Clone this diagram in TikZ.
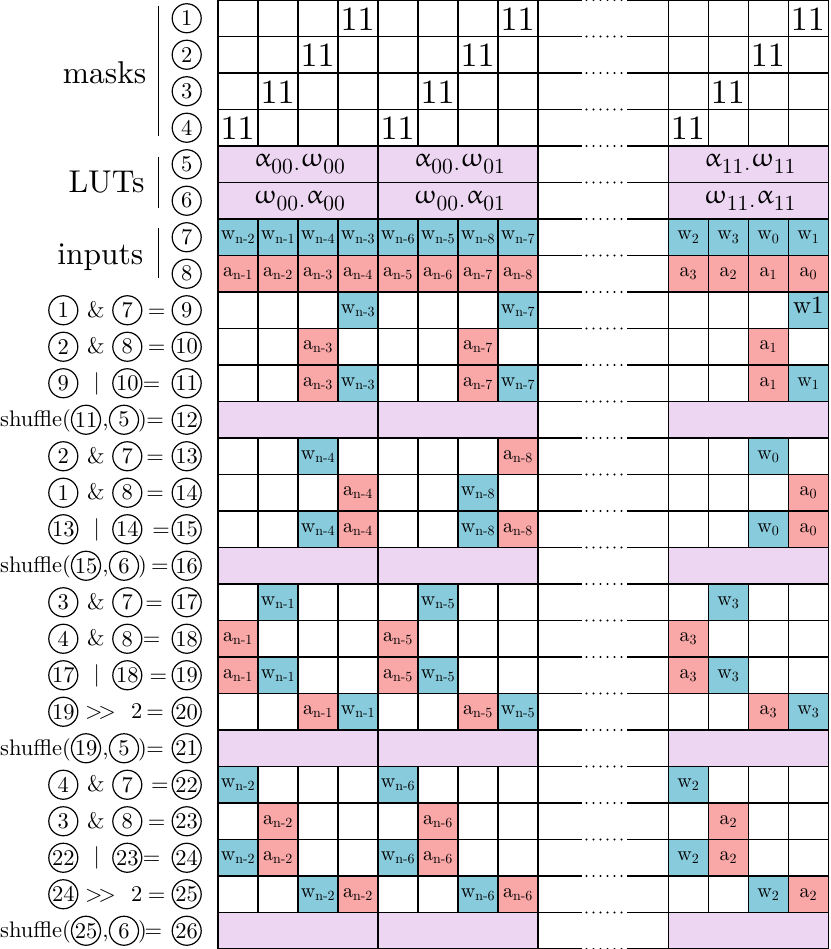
\documentclass[tikz,border=0pt]{standalone}
\usepackage{amsmath}
\usepackage{upgreek}
\usepackage{fontspec}
\setmainfont{lmroman10-regular}[Extension=.otf]
\definecolor{cyanc}{RGB}{136,203,220}
\definecolor{pinkc}{RGB}{250,167,167}
\definecolor{purpc}{RGB}{236,214,242}
\newcommand\myE{\fontsize{22.5}{27}\selectfont}
\newcommand\myL{\fontsize{31.5}{38}\selectfont}
\newcommand\myM{\fontsize{34}{40}\selectfont}
\newcommand\myC{\fontsize{20}{24}\selectfont}
\newcommand\myG{\fontsize{26.5}{30}\selectfont}
\newcommand\mySub{\fontsize{21.5}{22}\selectfont}
\newcommand\lut[4]{{\myG$#1$}\raisebox{-7pt}{\mySub#2}\kern1pt\raisebox{-4pt}{\mySub.}\kern1pt{\myG$#3$}\raisebox{-7pt}{\mySub#4}}
\tikzset{
  cn/.style={circle,draw,line width=1.2pt,minimum size=29pt,inner sep=0pt,font=\myE},
  et/.style={anchor=base,inner sep=0pt,font=\myE},
  lab/.style={anchor=base east,inner sep=0pt,font=\myL},
  ctext/.style={anchor=base,inner sep=0pt,font=\myC},
  mtext/.style={inner sep=0pt,font=\myM},
  gtext/.style={inner sep=0pt},
}
\newcommand\setcx[1]{\pgfmathsetmacro\cx{ifthenelse(#1<5,218+40*(#1-1),ifthenelse(#1<9,378+40*(#1-5),668.4+40*(#1-9)))}}
\newcommand\cellfill[4]{% col,row,color,content
  \setcx{#1}\pgfmathsetmacro\cy{(#2-1)*36.5}
  \fill[#3] (\cx,\cy) rectangle ++(40,36.5);
  \node[ctext] (c#1x#2) at (\cx+20,\cy+21) {#4};}
\newcommand\wcell[3]{\cellfill{#1}{#2}{cyanc}{$\text{w}_{\text{#3}}$}}
\newcommand\acell[3]{\cellfill{#1}{#2}{pinkc}{$\text{a}_{\text{#3}}$}}
\newcommand\mcell[2]{\setcx{#1}\pgfmathsetmacro\cy{(#2-1)*36.5}
  \node[mtext] (m#1x#2) at (\cx+19.5,\cy+19) {11};}
\newcommand\pcell[3]{% group,row,content
  \pgfmathsetmacro\gx{ifthenelse(#1==1,218,ifthenelse(#1==2,378,668.4))}
  \pgfmathsetmacro\cy{(#2-1)*36.5}
  \fill[purpc] (\gx,\cy) rectangle ++(160,36.5);
  \node[gtext] (p#1x#2) at (\gx+81.5,\cy+18.2) {#3};}
\newcommand\exand[5]{\pgfmathsetmacro\yc{(#1-0.5)*36.5}
  \node[cn] (e#1a) at (63.3,\yc) {#2};
  \node[et] (e#1o) at (95.8,\yc+7.2) {\&};
  \node[cn] (e#1b) at (127.3,\yc) {#3};
  \node[et] (e#1e) at (#5,\yc+7.2) {=};
  \node[cn] (e#1r) at (186.7,\yc) {#4};}
\newcommand\exor[5]{\pgfmathsetmacro\yc{(#1-0.5)*36.5}
  \node[cn] (e#1a) at (63.3,\yc) {#2};
  \node[et] (e#1o) at (96.7,\yc+6) {|};
  \node[cn] (e#1b) at (127.3,\yc) {#3};
  \node[et] (e#1e) at (#5,\yc+7.2) {=};
  \node[cn] (e#1r) at (186.7,\yc) {#4};}
\newcommand\exshift[4]{\pgfmathsetmacro\yc{(#1-0.5)*36.5}
  \node[cn] (e#1a) at (63.3,\yc) {#2};
  \node[et] (e#1o) at (100.5,\yc+7.2) {{>}\kern-4.5pt{>}};
  \node[et] (e#1t) at (136.7,\yc+7.2) {2};
  \node[et] (e#1e) at (#4,\yc+7.2) {=};
  \node[cn] (e#1r) at (186.7,\yc) {#3};}
\newcommand\exshuf[5]{\pgfmathsetmacro\yc{(#1-0.5)*36.5}
  \node[et,anchor=base east] (e#1s) at (71.5,\yc+7.2) {shuffle(};
  \node[cn] (e#1a) at (86,\yc) {#2};
  \node[et] (e#1c) at (105.5,\yc+7.2) {,};
  \node[cn] (e#1b) at (124,\yc) {#3};
  \node[et] (e#1p) at (142.5,\yc+7.2) {)};
  \node[et] (e#1e) at (#5,\yc+7.2) {=};
  \node[cn] (e#1r) at (186.7,\yc) {#4};}
\begin{document}
\begin{tikzpicture}[x=1pt,y=-1pt,line width=1.2pt]
\useasboundingbox (0,0) rectangle (830,949);
% purple rows
\pcell{1}{5}{\lut{\upalpha}{00}{\upomega}{00}}
\pcell{2}{5}{\lut{\upalpha}{00}{\upomega}{01}}
\pcell{3}{5}{\lut{\upalpha}{11}{\upomega}{11}}
\pcell{1}{6}{\lut{\upomega}{00}{\upalpha}{00}}
\pcell{2}{6}{\lut{\upomega}{00}{\upalpha}{01}}
\pcell{3}{6}{\lut{\upomega}{11}{\upalpha}{11}}
\foreach \g in {1,2,3}{\foreach \r in {12,16,21,26}{\pcell{\g}{\r}{}}}
% masks
\mcell{4}{1}\mcell{8}{1}\mcell{12}{1}
\mcell{3}{2}\mcell{7}{2}\mcell{11}{2}
\mcell{2}{3}\mcell{6}{3}\mcell{10}{3}
\mcell{1}{4}\mcell{5}{4}\mcell{9}{4}
% inputs
\wcell{1}{7}{n-2}\wcell{2}{7}{n-1}\wcell{3}{7}{n-4}\wcell{4}{7}{n-3}
\wcell{5}{7}{n-6}\wcell{6}{7}{n-5}\wcell{7}{7}{n-8}\wcell{8}{7}{n-7}
\wcell{9}{7}{2}\wcell{10}{7}{3}\wcell{11}{7}{0}\wcell{12}{7}{1}
\acell{1}{8}{n-1}\acell{2}{8}{n-2}\acell{3}{8}{n-3}\acell{4}{8}{n-4}
\acell{5}{8}{n-5}\acell{6}{8}{n-6}\acell{7}{8}{n-7}\acell{8}{8}{n-8}
\acell{9}{8}{3}\acell{10}{8}{2}\acell{11}{8}{1}\acell{12}{8}{0}
% rows 9-11
\wcell{4}{9}{n-3}\wcell{8}{9}{n-7}\cellfill{12}{9}{cyanc}{\fontsize{25}{30}\selectfont w1}
\acell{3}{10}{n-3}\acell{7}{10}{n-7}\acell{11}{10}{1}
\acell{3}{11}{n-3}\wcell{4}{11}{n-3}\acell{7}{11}{n-7}\wcell{8}{11}{n-7}\acell{11}{11}{1}\wcell{12}{11}{1}
% rows 13-15
\wcell{3}{13}{n-4}\acell{8}{13}{n-8}\wcell{11}{13}{0}
\acell{4}{14}{n-4}\wcell{7}{14}{n-8}\acell{12}{14}{0}
\wcell{3}{15}{n-4}\acell{4}{15}{n-4}\wcell{7}{15}{n-8}\acell{8}{15}{n-8}\wcell{11}{15}{0}\acell{12}{15}{0}
% rows 17-20
\wcell{2}{17}{n-1}\wcell{6}{17}{n-5}\wcell{10}{17}{3}
\acell{1}{18}{n-1}\acell{5}{18}{n-5}\acell{9}{18}{3}
\acell{1}{19}{n-1}\wcell{2}{19}{n-1}\acell{5}{19}{n-5}\wcell{6}{19}{n-5}\acell{9}{19}{3}\wcell{10}{19}{3}
\acell{3}{20}{n-1}\wcell{4}{20}{n-1}\acell{7}{20}{n-5}\wcell{8}{20}{n-5}\acell{11}{20}{3}\wcell{12}{20}{3}
% rows 22-25
\wcell{1}{22}{n-2}\wcell{5}{22}{n-6}\wcell{9}{22}{2}
\acell{2}{23}{n-2}\acell{6}{23}{n-6}\acell{10}{23}{2}
\wcell{1}{24}{n-2}\acell{2}{24}{n-2}\wcell{5}{24}{n-6}\acell{6}{24}{n-6}\wcell{9}{24}{2}\acell{10}{24}{2}
\wcell{3}{25}{n-2}\acell{4}{25}{n-2}\wcell{7}{25}{n-6}\acell{8}{25}{n-6}\wcell{11}{25}{2}\acell{12}{25}{2}
% grid lines
\foreach \X in {218,378,668.4}{
  \draw (\X,0) rectangle (\X+160,949);
  \foreach \k in {1,...,25}{\draw (\X,\k*36.5) -- (\X+160,\k*36.5);}
  \foreach \ya/\yb in {0/146,219/401.5,438/547.5,584/730,766.5/912.5}{
    \foreach \i in {1,2,3}{\draw (\X+40*\i,\ya) -- (\X+40*\i,\yb);}}
}
% gap lines with dots
\foreach \k in {0,...,26}{
  \draw (538,\k*36.5) -- (582,\k*36.5);
  \draw (627,\k*36.5) -- (668.4,\k*36.5);
  \foreach \d in {0,...,5}{\fill (586.5+7*\d,\k*36.5) circle (1.1pt);}
}
% left labels
\node[lab] (lmasks) at (147,84) {masks};
\node[lab] (lluts) at (145,193) {LUTs};
\node[lab] (linputs) at (144,265) {inputs};
\draw (158.3,5.7) -- (158.3,136);
\draw (158.3,157) -- (158.3,208);
\draw (158.3,228) -- (158.3,278);
\foreach \r in {1,...,8}{\node[cn] (n\r) at (186.7,{(\r-0.5)*36.5}) {\r};}
% expressions
\exand{9}{1}{7}{9}{156.7}
\exand{10}{2}{8}{10}{156.7}
\exor{11}{9}{10}{11}{151.7}
\exshuf{12}{11}{5}{12}{155}
\exand{13}{2}{7}{13}{155}
\exand{14}{1}{8}{14}{155}
\exor{15}{13}{14}{15}{161}
\exshuf{16}{15}{6}{16}{160}
\exand{17}{3}{7}{17}{154}
\exand{18}{4}{8}{18}{151.7}
\exor{19}{17}{18}{19}{158.3}
\exshift{20}{19}{20}{155}
\exshuf{21}{19}{5}{21}{155}
\exand{22}{4}{7}{22}{160}
\exand{23}{3}{8}{23}{156.7}
\exor{24}{22}{23}{24}{151.7}
\exshift{25}{24}{25}{156.7}
\exshuf{26}{25}{6}{26}{153.3}
\end{tikzpicture}
\end{document}
